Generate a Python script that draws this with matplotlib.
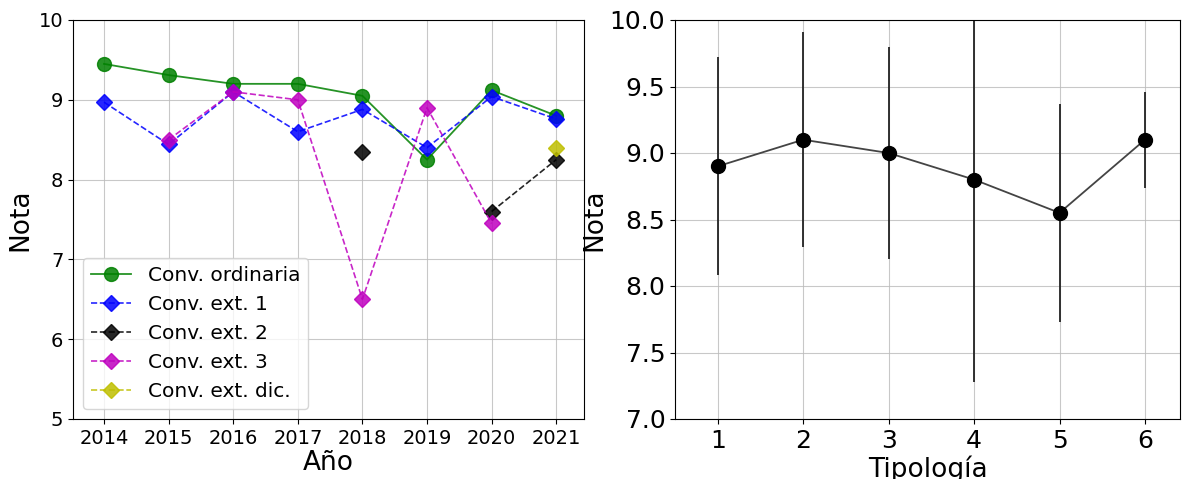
import numpy as np
import matplotlib
matplotlib.use('Agg')
import matplotlib.pyplot as plt

# datos por año
anios = [2014, 2015, 2016, 2017, 2018, 2019, 2020, 2021]
ordinaria = [9.45, 9.31, 9.2, 9.2, 9.05, 8.25, 9.12, 8.8]
ext1 = [8.97, 8.44, 9.1, 8.6, 8.88, 8.4, 9.04, 8.76]
ext2 = [np.nan, np.nan, np.nan, np.nan, 8.35, np.nan, 7.6, 8.25]
ext3 = [np.nan, 8.5, 9.1, 9.0, 6.5, 8.9, 7.45, np.nan]
ext_dic = [np.nan, np.nan, np.nan, np.nan, np.nan, np.nan, np.nan, 8.4]

# datos por tipologia
tipologia = [1, 2, 3, 4, 5, 6]
media = [8.9, 9.1, 9.0, 8.8, 8.55, 9.1]
desv = [0.82, 0.81, 0.8, 1.52, 0.82, 0.36]

fig = plt.figure(figsize=(11.83, 4.79), dpi=100)
ax1 = fig.add_axes([73/1183, 60/479, 511/1183, 399/479])
ax2 = fig.add_axes([675/1183, 60/479, 505/1183, 399/479])

ax1.plot(anios, ordinaria, 'o-', color='green', alpha=0.85, lw=1.3, markersize=10, label='Conv. ordinaria')
ax1.plot(anios, ext1, 'D--', color='blue', alpha=0.85, lw=1.2, markersize=8, label='Conv. ext. 1')
ax1.plot(anios, ext2, 'D--', color='k', alpha=0.85, lw=1.2, markersize=8, label='Conv. ext. 2')
ax1.plot(anios, ext3, 'D--', color='m', alpha=0.85, lw=1.2, markersize=8, label='Conv. ext. 3')
ax1.plot(anios, ext_dic, 'D--', color='y', alpha=0.85, lw=1.2, markersize=8, label='Conv. ext. dic.')
ax1.set_ylim(5, 10)
ax1.set_xlim(2013.52, 2021.43)
ax1.set_xticks(anios)
ax1.tick_params(labelsize=14)
ax1.set_xlabel('Año', fontsize=19, labelpad=2)
ax1.set_ylabel('Nota', fontsize=19)
ax1.grid(True, color='#bbbbbb', alpha=0.8)
ax1.legend(loc='lower left', fontsize=14.5)

ax2.errorbar(tipologia, media, yerr=desv, fmt='o-', color='#444444', ecolor='#222222',
             mfc='k', mec='k', markersize=10, lw=1.3, elinewidth=1.3)
ax2.set_ylim(7, 10)
ax2.set_xlim(0.5, 6.41)
ax2.set_xticks(tipologia)
ax2.tick_params(labelsize=18)
ax2.set_xlabel('Tipología', fontsize=19, labelpad=2)
ax2.set_ylabel('Nota', fontsize=19, labelpad=2)
ax2.grid(True, color='#bbbbbb', alpha=0.8)

fig.savefig('out.png', dpi=100)
